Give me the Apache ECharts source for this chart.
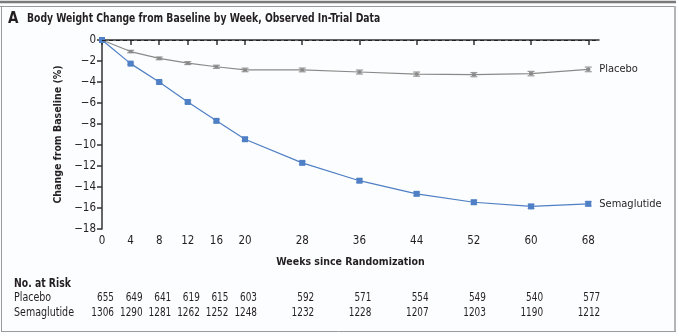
<!DOCTYPE html>
<html><head><meta charset="utf-8">
<script src="https://cdn.jsdelivr.net/npm/echarts@6/dist/echarts.min.js"></script>
<style>html,body{margin:0;padding:0;background:#fff}#c{width:678px;height:334px}</style>
</head><body><div id="c"></div>
<script>
const weeks = [0, 4, 8, 12, 16, 20, 28, 36, 44, 52, 60, 68];
const placebo = [0, -1.1, -1.75, -2.2, -2.55, -2.85, -2.85, -3.05, -3.25, -3.3, -3.2, -2.8];
const placeboSE = [0, 0.12, 0.13, 0.14, 0.15, 0.17, 0.18, 0.19, 0.2, 0.2, 0.21, 0.22];
const sema = [0, -2.25, -4.0, -5.9, -7.7, -9.45, -11.7, -13.4, -14.65, -15.45, -15.85, -15.6];
const semaSE = [0, 0.08, 0.1, 0.12, 0.13, 0.15, 0.15, 0.16, 0.17, 0.18, 0.19, 0.2];
const riskPlacebo = [655, 649, 641, 619, 615, 603, 592, 571, 554, 549, 540, 577];
const riskSema = [1306, 1290, 1281, 1262, 1252, 1248, 1232, 1228, 1207, 1203, 1190, 1212];

const FONT = '"Liberation Sans Narrow", "DejaVu Sans Condensed", Lato, sans-serif';
const TXT = '#231f20';
const GRAY = '#8a8a8a';
const BLUE = '#4f7fc4';

const chart = echarts.init(document.getElementById('c'), null, {renderer: 'canvas'});

function errItem(seArr, color) {
  return function (params, api) {
    const i = params.dataIndex;
    const x = api.value(0), v = api.value(1), se = seArr[i];
    if (!se) return null;
    const top = api.coord([x, v + se]);
    const bot = api.coord([x, v - se]);
    const w = 3.5;
    return {
      type: 'group',
      children: [
        {type: 'line', shape: {x1: top[0], y1: top[1], x2: bot[0], y2: bot[1]}, style: {stroke: color, lineWidth: 1.2}},
        {type: 'line', shape: {x1: top[0] - w, y1: top[1], x2: top[0] + w, y2: top[1]}, style: {stroke: color, lineWidth: 1.2}},
        {type: 'line', shape: {x1: bot[0] - w, y1: bot[1], x2: bot[0] + w, y2: bot[1]}, style: {stroke: color, lineWidth: 1.2}}
      ]
    };
  };
}

function riskItem(arr, ypix) {
  return function (params, api) {
    const i = params.dataIndex;
    const p = api.coord([api.value(0), 0]);
    return {
      type: 'text',
      x: p[0] + 12, y: ypix, scaleX: 0.86,
      style: {text: String(arr[i]), fill: TXT, font: '11.5px ' + FONT, align: 'right', verticalAlign: 'middle'}
    };
  };
}

const option = {
  animation: false,
  backgroundColor: '#fcfdfe',
  textStyle: {fontFamily: FONT},
  grid: {left: 102, top: 40, width: 497, height: 189, containLabel: false},
  xAxis: {
    type: 'value', min: 0, max: 69.5,
    name: 'Weeks since Randomization', nameLocation: 'middle', nameGap: 28,
    nameTextStyle: {fontFamily: FONT, fontWeight: 'bold', fontSize: 10.5, color: TXT},
    axisLine: {show: true, lineStyle: {color: '#333', width: 1.5}},
    axisTick: {show: true, length: 5, customValues: weeks, lineStyle: {color: '#333', width: 1.5}},
    axisLabel: {customValues: weeks, color: TXT, fontSize: 11.5, fontFamily: FONT, margin: 6},
    splitLine: {show: false}
  },
  yAxis: {
    type: 'value', min: -18, max: 0, interval: 2,
    name: 'Change from Baseline (%)', nameLocation: 'middle', nameGap: 35, nameRotate: 90,
    nameTextStyle: {fontFamily: FONT, fontWeight: 'bold', fontSize: 10.5, color: TXT},
    axisLine: {show: true, lineStyle: {color: '#333', width: 1.5}},
    axisTick: {show: true, length: 5, lineStyle: {color: '#333', width: 1.5}},
    axisLabel: {color: TXT, fontSize: 11.5, fontFamily: FONT, margin: 6,
      formatter: v => (v < 0 ? '\u2212' + Math.abs(v) : String(v))},
    splitLine: {show: false}
  },
  series: [
    {
      name: 'Placebo', type: 'line',
      data: weeks.map((w, i) => [w, placebo[i]]),
      lineStyle: {color: GRAY, width: 1.2},
      itemStyle: {color: GRAY},
      symbol: 'rect', symbolSize: [4, 3], showSymbol: true,
      endLabel: {show: true, formatter: 'Placebo', color: TXT, fontSize: 11, fontFamily: FONT, distance: 11},
      markLine: {
        silent: true, symbol: 'none', label: {show: false},
        lineStyle: {color: '#222', type: [4, 3], width: 1},
        data: [{yAxis: 0}]
      },
      z: 3
    },
    {
      type: 'custom', data: weeks.map((w, i) => [w, placebo[i]]),
      renderItem: errItem(placeboSE, '#9a9a9a'), z: 2
    },
    {
      name: 'Semaglutide', type: 'line',
      data: weeks.map((w, i) => [w, sema[i]]),
      lineStyle: {color: BLUE, width: 1.2},
      itemStyle: {color: BLUE},
      symbol: 'rect', symbolSize: 6, showSymbol: true,
      endLabel: {show: true, formatter: 'Semaglutide', color: TXT, fontSize: 11, fontFamily: FONT, distance: 11},
      z: 3
    },
    {
      type: 'custom', data: weeks.map((w, i) => [w, sema[i]]),
      renderItem: errItem(semaSE, '#8fb0dc'), z: 2
    },
    {
      type: 'custom', data: weeks.map(w => [w, 0]), clip: false,
      renderItem: riskItem(riskPlacebo, 298), silent: true
    },
    {
      type: 'custom', data: weeks.map(w => [w, 0]), clip: false,
      renderItem: riskItem(riskSema, 313), silent: true
    }
  ],
  graphic: [
    {type: 'line', shape: {x1: 0, y1: 2, x2: 676, y2: 2}, style: {stroke: '#7a7a7a', lineWidth: 2.5}},
    {type: 'line', shape: {x1: 0, y1: 6.5, x2: 676, y2: 6.5}, style: {stroke: '#9a9a9a', lineWidth: 1}},
    {type: 'line', shape: {x1: 1.5, y1: 6, x2: 1.5, y2: 332}, style: {stroke: '#9a9a9a', lineWidth: 1}},
    {type: 'line', shape: {x1: 675, y1: 6, x2: 675, y2: 332}, style: {stroke: '#b5b5b5', lineWidth: 2}},
    {type: 'line', shape: {x1: 1, y1: 331.5, x2: 676, y2: 331.5}, style: {stroke: '#9a9a9a', lineWidth: 1}},
    {type: 'text', x: 8, y: 19, style: {text: 'A', font: 'bold 15px ' + FONT, fill: TXT, verticalAlign: 'middle'}},
    {type: 'text', x: 27, y: 19, scaleX: 0.79, style: {text: 'Body Weight Change from Baseline by Week, Observed In-Trial Data', font: 'bold 13px ' + FONT, fill: TXT, verticalAlign: 'middle'}},
    {type: 'text', x: 14, y: 284, scaleX: 0.86, style: {text: 'No. at Risk', font: 'bold 12px ' + FONT, fill: TXT, verticalAlign: 'middle'}},
    {type: 'text', x: 14, y: 298, scaleX: 0.92, style: {text: 'Placebo', font: '11.5px ' + FONT, fill: TXT, verticalAlign: 'middle'}},
    {type: 'text', x: 14, y: 313, scaleX: 0.92, style: {text: 'Semaglutide', font: '11.5px ' + FONT, fill: TXT, verticalAlign: 'middle'}}
  ]
};
chart.setOption(option);
</script></body></html>
